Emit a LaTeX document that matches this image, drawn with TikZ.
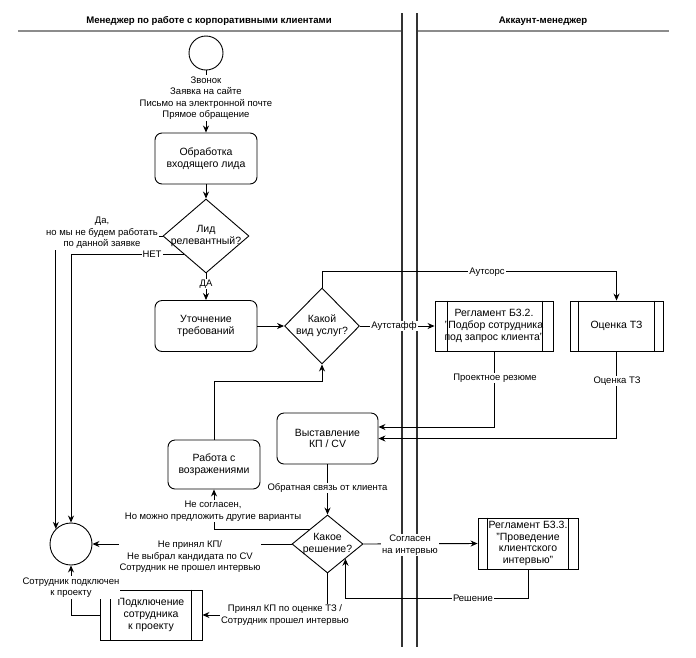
\documentclass[tikz,border=0pt]{standalone}
\usepackage{fontspec}
\setmainfont{Liberation Sans}
\usetikzlibrary{shapes.geometric,arrows.meta,calc}
\begin{document}
\begin{tikzpicture}[x=1pt,y=-1pt,line width=0.9pt,
  txt/.style={font=\fontsize{10.5}{11.8}\selectfont, align=center},
  lbl/.style={font=\fontsize{9.5}{11.5}\selectfont, align=center, fill=white, inner sep=1pt},
  rbox/.style={draw, rounded corners=7pt, txt, inner sep=0pt},
  pbox/.style={draw, txt, inner sep=0pt},
  dia/.style={draw, diamond, inner sep=0pt},
  arr/.style={-{Stealth[length=7pt,width=6pt]}},
  lane/.style={draw=black!80, line width=1.1pt},
  head/.style={draw=black!45, line width=2pt},
  ttl/.style={font=\bfseries\fontsize{9.6}{11.5}\selectfont}
]
\useasboundingbox (0,0) rectangle (696,657);

% header and lanes
\node[ttl] (t1) at (209,21) {Менеджер по работе с корпоративными клиентами};
\node[ttl] (t2) at (543,21) {Аккаунт-менеджер};
\coordinate (h1a) at (18,31); \coordinate (h1b) at (402,31);
\coordinate (h2a) at (417,31); \coordinate (h2b) at (669,31);
\draw[head] (h1a) -- (h1b);
\draw[head] (h2a) -- (h2b);
\coordinate (v1a) at (402,13); \coordinate (v1b) at (402,647);
\coordinate (v2a) at (417,13); \coordinate (v2b) at (417,647);
\draw[lane] (v1a) -- (v1b);
\draw[lane] (v2a) -- (v2b);

% nodes
\node[draw, circle, minimum size=34pt, inner sep=0pt] (st) at (206,53) {};
\node[rbox, minimum width=102pt, minimum height=51pt] (obr) at (206,158.5) {Обработка\\входящего лида};
\node[dia, minimum width=86pt, minimum height=74pt] (d1) at (206,236) {};
\node[txt] (d1t) at (206,236) {Лид\\релевантный?};
\node[rbox, minimum width=102pt, minimum height=51pt] (utc) at (206,326) {Уточнение\\требований};
\node[dia, minimum width=75pt, minimum height=76pt] (d2) at (322,326) {};
\node[txt] (d2t) at (322,326) {Какой\\вид услуг?};
\node[pbox, minimum width=118pt, minimum height=50pt] (b32) at (494,326) {Регламент Б3.2.\\"Подбор сотрудника\\под запрос клиента"};
\node[pbox, minimum width=93pt, minimum height=50pt] (ocz) at (616.5,326) {Оценка ТЗ};
\node[rbox, minimum width=101pt, minimum height=51pt] (vys) at (327.5,438.5) {Выставление\\КП / CV};
\node[rbox, minimum width=92pt, minimum height=49pt] (rab) at (214,464.5) {Работа с\\возражениями};
\node[dia, minimum width=71pt, minimum height=58pt] (d3) at (327.5,544) {};
\node[txt] (d3t) at (327.5,544) {Какое\\решение?};
\node[pbox, minimum width=100pt, minimum height=51pt] (b33) at (528,543.5) {Регламент Б3.3.\\"Проведение\\клиентского\\интервью"};
\node[pbox, minimum width=102pt, minimum height=50pt] (pod) at (151,615) {Подключение\\сотрудника\\к проекту};
\node[draw, circle, minimum size=42pt, inner sep=0pt] (en) at (71,544) {};

% process side bars
\draw ([xshift=13pt]b32.north west) -- ([xshift=13pt]b32.south west);
\draw ([xshift=-11pt]b32.north east) -- ([xshift=-11pt]b32.south east);
\draw ([xshift=9pt]ocz.north west) -- ([xshift=9pt]ocz.south west);
\draw ([xshift=-9pt]ocz.north east) -- ([xshift=-9pt]ocz.south east);
\draw ([xshift=10pt]b33.north west) -- ([xshift=10pt]b33.south west);
\draw ([xshift=-10pt]b33.north east) -- ([xshift=-10pt]b33.south east);
\draw ([xshift=11pt]pod.north west) -- ([xshift=11pt]pod.south west);
\draw ([xshift=-11pt]pod.north east) -- ([xshift=-11pt]pod.south east);

% helper coordinates
\coordinate (aut) at ($(ocz.north)+(0,-29)$);
\coordinate (j1) at ($(d2.south)+(0,17)$);
\coordinate (j2) at ($(d3.south east)+(0,39.5)$);

% connectors
\draw[arr] (st.south) -- (obr.north);
\draw[arr] (obr.south) -- (d1.north);
\draw[arr] (d1.south) -- (utc.north);
\draw[arr] (d1.west) -| (en.north west);
\draw[arr] (d1.south west) -| (en.north);
\draw[arr] (utc.east) -- (d2.west);
\draw[arr] (d2.east) -- (b32.west);
\draw[arr] (d2.north) |- (aut) -- (ocz.north);
\draw[arr] (b32.south) |- ([yshift=11.5pt]vys.east);
\draw[arr] (ocz.south) |- (vys.east);
\draw[arr] (vys.south) -- (d3.north);
\draw[arr] (rab.north) |- (j1) -- (d2.south);
\draw[arr] (d3.north west) -| (rab.south);
\draw[arr] (d3.west) -- (en.east);
\draw[arr] (d3.south) |- (pod.east);
\draw[arr] (pod.west) -| (en.south);
\draw[arr] (d3.east) -- (b33.west);
\draw[arr] (b33.south) |- (j2) -- (d3.south east);

% labels
\node[lbl] (ls) at (206,98) {Звонок\\Заявка на сайте\\Письмо на электронной почте\\Прямое обращение};
\node[lbl] (lda) at (206,284) {ДА};
\node[lbl] (lyes) at (102,233) {Да,\\но мы не будем работать\\по данной заявке};
\node[lbl] (lnet) at (152,254.5) {НЕТ};
\node[lbl] (lout) at (394,326) {Аутстафф};
\node[lbl] (lsrc) at (487,272) {Аутсорс};
\node[lbl] (lpr) at (495,378) {Проектное резюме};
\node[lbl] (loc) at (617,381) {Оценка ТЗ};
\node[lbl] (lfb) at (327.5,488) {Обратная связь от клиента};
\node[lbl] (lns) at (213,511) {Не согласен,\\Но можно предложить другие варианты};
\node[lbl] (lnp) at (190,557) {Не принял КП/\\Не выбрал кандидата по CV\\Сотрудник не прошел интервью};
\node[lbl] (lag) at (410,545) {Согласен\\на интервью};
\node[lbl] (lac) at (285,615) {Принял КП по оценке ТЗ /\\Сотрудник прошел интервью};
\node[lbl] (lcon) at (71,587.5) {Сотрудник подключен\\к проекту};
\node[lbl] (lres) at (473,598) {Решение};
\end{tikzpicture}
\end{document}
